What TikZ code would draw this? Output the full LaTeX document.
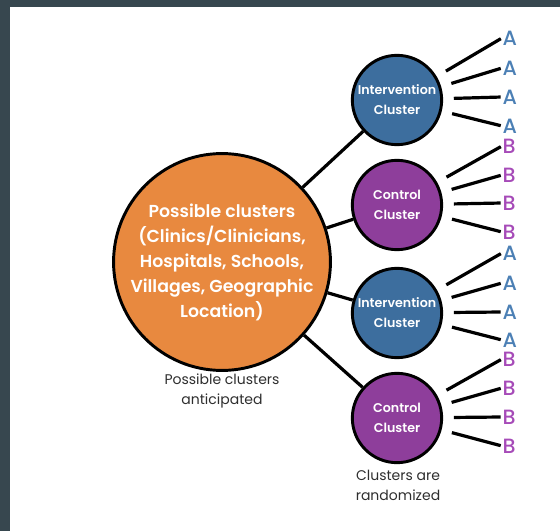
\documentclass[tikz,border=0pt]{standalone}
\usepackage{fontspec}
\setmainfont{Poppins}[BoldFont={Poppins SemiBold}]
\newfontfamily\lettfont{Poppins Medium}
\definecolor{frameslate}{HTML}{37474F}
\definecolor{poolorange}{HTML}{E8893F}
\definecolor{armblue}{HTML}{3D6E9E}
\definecolor{armpurple}{HTML}{8E3E9B}
\definecolor{letterblue}{HTML}{4C80B5}
\definecolor{letterpurple}{HTML}{A64BB8}
\definecolor{captiongray}{HTML}{2E2E2E}

\tikzset{every picture/.style={line width=0.75pt}}
\tikzset{
  poolcircle/.style={circle, draw=black, line width=2.2pt, fill=poolorange, minimum size=155pt, inner sep=0pt,
    text=white, font=\bfseries\fontsize{13}{18.75}\selectfont, align=center},
  interv/.style={circle, draw=black, line width=2.2pt, fill=armblue, minimum size=67pt, inner sep=0pt,
    text=white, font=\bfseries\fontsize{9.5}{15}\selectfont, align=center},
  contr/.style={interv, fill=armpurple},
  lettA/.style={anchor=west, inner sep=0pt, text=letterblue, font=\lettfont\fontsize{15.5}{15.5}\selectfont},
  lettB/.style={lettA, text=letterpurple},
  caption/.style={text=captiongray, font=\fontsize{10.5}{15}\selectfont, align=center},
  branch/.style={line width=2.4pt},
  twig/.style={line width=2.4pt, shorten <=8pt, shorten >=1pt}
}

\begin{document}
\begin{tikzpicture}[x=0.75pt,y=0.75pt,yscale=-1,xscale=1]
	\useasboundingbox (0,0) rectangle (560,531);
	% frame
	\fill [frameslate] (0,0) rectangle (560,7);
	\fill [frameslate] (0,0) rectangle (10,531);
	% circles
	\node [poolcircle] (pool) at (222,262) {Possible clusters\\(Clinics/Clinicians,\\Hospitals, Schools,\\Villages, Geographic\\Location)};
	\node [interv] (iv1) at (397,100) {Intervention\\Cluster};
	\node [contr] (ct1) at (397,205) {Control\\Cluster};
	\node [interv] (iv2) at (397,313) {Intervention\\Cluster};
	\node [contr] (ct2) at (397,418) {Control\\Cluster};
	% captions
	\node [caption] (poolcap) at (222,391) {Possible clusters\\anticipated};
	\node [caption] (randcap) at (398,485) {Clusters are\\randomized};
	% branches
	\draw [branch] (pool) -- (iv1) ;
	\draw [branch] (pool) -- (ct1) ;
	\draw [branch] (pool) -- (iv2) ;
	\draw [branch] (pool) -- (ct2) ;
	% letters
	\node [lettA] (iv1a) at (502,38) {A};
	\node [lettA] (iv1b) at (502,68) {A};
	\node [lettA] (iv1c) at (502,97) {A};
	\node [lettA] (iv1d) at (502,126) {A};
	\node [lettB] (ct1a) at (502,146) {B};
	\node [lettB] (ct1b) at (502,175) {B};
	\node [lettB] (ct1c) at (502,203) {B};
	\node [lettB] (ct1d) at (502,232) {B};
	\node [lettA] (iv2a) at (502,253) {A};
	\node [lettA] (iv2b) at (502,283) {A};
	\node [lettA] (iv2c) at (502,312) {A};
	\node [lettA] (iv2d) at (502,340) {A};
	\node [lettB] (ct2a) at (502,359) {B};
	\node [lettB] (ct2b) at (502,388) {B};
	\node [lettB] (ct2c) at (502,417) {B};
	\node [lettB] (ct2d) at (502,446) {B};
	% twigs
	\draw [twig] (iv1) -- (iv1a.west) ;
	\draw [twig] (iv1) -- (iv1b.west) ;
	\draw [twig] (iv1) -- (iv1c.west) ;
	\draw [twig] (iv1) -- (iv1d.west) ;
	\draw [twig] (ct1) -- (ct1a.west) ;
	\draw [twig] (ct1) -- (ct1b.west) ;
	\draw [twig] (ct1) -- (ct1c.west) ;
	\draw [twig] (ct1) -- (ct1d.west) ;
	\draw [twig] (iv2) -- (iv2a.west) ;
	\draw [twig] (iv2) -- (iv2b.west) ;
	\draw [twig] (iv2) -- (iv2c.west) ;
	\draw [twig] (iv2) -- (iv2d.west) ;
	\draw [twig] (ct2) -- (ct2a.west) ;
	\draw [twig] (ct2) -- (ct2b.west) ;
	\draw [twig] (ct2) -- (ct2c.west) ;
	\draw [twig] (ct2) -- (ct2d.west) ;
\end{tikzpicture}
\end{document}
